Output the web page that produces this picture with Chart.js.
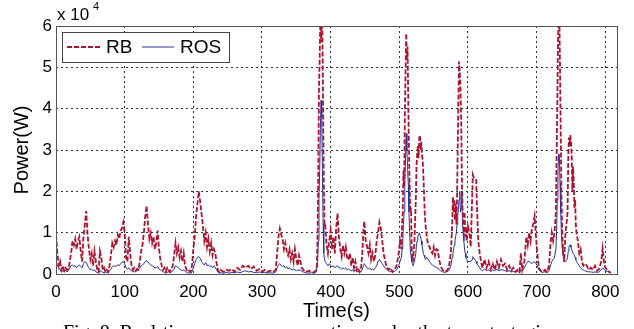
<!DOCTYPE html>
<html>
<head>
<meta charset="utf-8">
<script src="https://cdn.jsdelivr.net/npm/chart.js@4.4.1/dist/chart.umd.min.js"></script>
<style>
    html, body { margin: 0; padding: 0; background: #fff; }
    #powerChart { display: block; }
</style>
</head>
<body>
<canvas id="powerChart" width="634" height="329"></canvas>
<script>
// time in s, power in units of 10^4 W
// each line of the three arrays covers the same samples
const timeSec = [
    0, 2, 4, 6, 8, 10, 12, 14, 16, 18, 20, 22, 24, 26, 28, 30, 32, 34, 36, 38,
    40, 42, 44, 46, 48, 50, 52, 54, 56, 58, 60, 62, 64, 66, 68, 70, 72, 74, 76, 78,
    80, 82, 84, 86, 88, 90, 92, 94, 96, 98, 100, 102, 104, 106, 108, 110, 112, 114, 116, 118,
    120, 122, 124, 126, 128, 130, 132, 134, 136, 138, 140, 142, 144, 146, 148, 150, 152, 154, 156, 158,
    160, 162, 164, 166, 168, 170, 172, 174, 176, 178, 180, 182, 184, 186, 188, 190, 192, 194, 196, 198,
    200, 202, 204, 206, 208, 210, 212, 214, 216, 218, 220, 222, 224, 226, 228, 230, 232, 234, 236, 238,
    240, 244, 248, 252, 256, 260, 264, 268, 272, 276, 280, 284, 288, 292, 296, 300, 304, 308, 312, 316,
    320, 322, 324, 326, 328, 330, 332, 334, 336, 338, 340, 342, 344, 346, 348, 350, 352, 354, 356, 358,
    360, 364, 368, 372, 376, 379, 380, 381, 382, 383, 384, 385, 386, 387, 388, 389, 390, 391, 392, 394, 396, 398, 400,
    402, 404, 406, 408, 410, 412, 414, 416, 418, 420, 422, 424, 426, 428, 430, 432, 434, 436, 438, 440,
    442, 444, 446, 448, 449, 451, 453, 455, 457, 459, 461, 463, 465, 467, 469, 471, 473, 475, 477, 479,
    481, 484, 487, 490, 493,
    496, 499, 501, 503, 504, 505, 506, 507, 508, 509, 510, 511, 512, 513, 514, 515, 516, 517, 518, 520,
    522, 524, 525, 526, 527, 528, 529, 530, 531, 532, 533, 534, 535, 536, 537, 538, 540,
    542, 544, 546, 548, 550, 552, 554, 556, 558,
    560, 563, 566, 569, 572, 575, 577, 578, 579, 580, 581, 582, 583, 584, 585, 586, 587, 588, 589, 590,
    591, 592, 593, 594, 595, 596, 597, 598, 600, 602, 604, 606, 607, 608, 610, 612, 613, 615, 617, 619, 621,
    624, 627, 630, 633, 636, 639, 642, 645, 648, 651, 654, 657, 660, 663, 666, 669, 672, 675,
    677, 679, 682, 685, 687, 689, 691, 693, 695, 697, 699, 701, 703, 706, 709, 712, 715, 718, 720, 722, 724, 726,
    728, 729, 730, 731, 732, 733, 734, 735, 736, 737, 738, 740, 742, 744,
    745, 746, 747, 748, 749, 750, 751, 752, 753, 754, 755, 756, 757, 758, 760, 762, 764, 766,
    768, 770, 773, 776, 779, 782, 785, 788, 791, 794, 796, 798, 800, 803, 806, 808
];

const rbPower = [
    0.95, 0.5, 0.2, 0.3, 0.1, 0.2, 0.08, 0.15, 0.1, 0.12, 0.3, 0.5, 0.8, 0.7, 0.85, 0.6, 0.8, 0.9, 0.55, 0.3,
    0.9, 1.2, 1.52, 0.95, 0.6, 0.35, 0.5, 0.2, 0.55, 0.3, 0.1, 0.05, 0.55, 0.4, 0.1, 0.15, 0.05, 0.1, 0.05, 0.2,
    0.45, 0.75, 0.65, 0.8, 0.7, 0.95, 0.85, 1.05, 1.1, 1.25, 1.0, 0.4, 0.3, 0.9, 0.5, 0.2, 0.1, 0.15, 0.08, 0.12,
    0.1, 0.3, 0.55, 0.7, 1.0, 1.4, 1.65, 1.2, 0.85, 1.0, 0.75, 0.9, 0.6, 0.75, 1.05, 0.6, 0.35, 0.2, 0.1, 0.15,
    0.05, 0.15, 0.1, 0.05, 0.12, 0.2, 0.45, 0.75, 0.5, 0.65, 0.4, 0.55, 0.3, 0.5, 0.2, 0.1, 0.05, 0.08, 0.05, 0.2,
    0.6, 0.9, 1.4, 1.7, 2.0, 1.75, 1.45, 1.15, 0.8, 1.0, 0.65, 0.85, 0.55, 0.75, 0.45, 0.6, 0.5, 0.25, 0.08, 0.05,
    0.1, 0.05, 0.1, 0.08, 0.12, 0.05, 0.15, 0.1, 0.2, 0.15, 0.2, 0.12, 0.18, 0.08, 0.12, 0.06, 0.1, 0.05, 0.08, 0.05,
    0.1, 0.5, 0.9, 1.1, 0.95, 0.85, 0.6, 0.75, 0.55, 0.45, 0.6, 0.35, 0.5, 0.3, 0.6, 0.35, 0.2, 0.45, 0.3, 0.15,
    0.1, 0.05, 0.08, 0.05, 0.04, 0.1, 0.2, 1.0, 2.5, 4.5, 5.2, 6.3, 5.6, 6.3, 5.8, 4.0, 2.2, 1.2, 1.22, 0.7, 0.5, 0.8, 1.05,
    0.6, 0.9, 0.5, 1.1, 1.47, 0.9, 0.6, 0.42, 0.7, 0.5, 0.66, 0.4, 0.34, 0.5, 0.2, 0.4, 0.15, 0.3, 0.1, 0.15,
    0.05, 0.1, 0.5, 1.1, 1.27, 0.8, 0.66, 0.5, 0.7, 0.35, 0.5, 0.3, 0.45, 0.8, 1.0, 1.25, 1.1, 0.82, 0.5, 0.35,
    0.2, 0.1, 0.15, 0.05, 0.1,
    0.2, 0.5, 0.8, 0.6, 1.2, 1.5, 2.5, 2.1, 3.8, 4.8, 5.82, 5.2, 5.5, 4.2, 3.0, 2.2, 1.5, 1.6, 0.6, 0.3,
    0.8, 1.8, 2.6, 2.9, 3.1, 2.8, 3.3, 3.36, 3.0, 3.2, 2.9, 2.75, 2.4, 1.95, 1.5, 1.2, 0.9,
    0.7, 0.66, 0.55, 0.5, 0.65, 0.45, 0.6, 0.58, 0.35,
    0.2, 0.1, 0.05, 0.08, 0.15, 0.5, 1.2, 1.87, 1.5, 1.8, 1.3, 1.7, 1.2, 1.8, 3.0, 4.2, 5.14, 4.9, 4.5, 3.8,
    2.5, 1.6, 1.4, 1.0, 1.5, 0.9, 1.15, 0.8, 1.15, 1.0, 0.66, 1.8, 2.4, 2.35, 2.3, 2.27, 1.63, 0.8, 0.5, 0.3, 0.15,
    0.35, 0.15, 0.3, 0.12, 0.25, 0.1, 0.3, 0.15, 0.35, 0.2, 0.25, 0.1, 0.2, 0.08, 0.15, 0.05, 0.1, 0.05,
    0.5, 0.1, 0.3, 0.9, 0.7, 1.0, 0.8, 1.1, 1.2, 1.4, 0.9, 0.5, 0.15, 0.08, 0.05, 0.1, 0.05, 0.2, 0.7, 1.0, 0.8, 1.0,
    1.5, 2.8, 4.0, 5.5, 6.3, 6.3, 5.0, 3.5, 2.0, 1.2, 0.6, 0.3, 1.0, 1.3,
    1.5, 2.8, 3.3, 3.1, 3.36, 3.2, 2.9, 2.0, 2.6, 2.2, 1.6, 1.8, 1.2, 1.0, 0.8, 0.5, 0.6, 0.3,
    0.2, 0.25, 0.2, 0.1, 0.15, 0.1, 0.2, 0.08, 0.12, 0.3, 0.62, 0.3, 0.15, 0.1, 0.05, 0.03
];

const rosPower = [
    0.2, 0.22, 0.15, 0.1, 0.05, 0.08, 0.05, 0.1, 0.05, 0.08, 0.15, 0.2, 0.22, 0.18, 0.2, 0.15, 0.2, 0.22, 0.18, 0.15,
    0.25, 0.3, 0.28, 0.2, 0.15, 0.1, 0.12, 0.08, 0.1, 0.05, 0.04, 0.03, 0.08, 0.06, 0.04, 0.03, 0.03, 0.04, 0.05, 0.08,
    0.12, 0.18, 0.2, 0.18, 0.2, 0.22, 0.2, 0.25, 0.28, 0.3, 0.25, 0.15, 0.12, 0.15, 0.1, 0.08, 0.06, 0.05, 0.06, 0.08,
    0.1, 0.15, 0.2, 0.22, 0.25, 0.3, 0.32, 0.28, 0.25, 0.22, 0.2, 0.18, 0.15, 0.15, 0.18, 0.12, 0.1, 0.08, 0.05, 0.04,
    0.05, 0.04, 0.05, 0.03, 0.05, 0.08, 0.12, 0.2, 0.18, 0.15, 0.12, 0.1, 0.08, 0.1, 0.06, 0.04, 0.02, 0.03, 0.02, 0.05,
    0.15, 0.25, 0.35, 0.4, 0.42, 0.38, 0.3, 0.25, 0.22, 0.28, 0.2, 0.22, 0.18, 0.2, 0.15, 0.2, 0.15, 0.1, 0.04, 0.02,
    0.03, 0.02, 0.04, 0.02, 0.04, 0.03, 0.05, 0.03, 0.06, 0.08, 0.05, 0.06, 0.04, 0.03, 0.05, 0.03, 0.04, 0.02, 0.03, 0.02,
    0.05, 0.15, 0.22, 0.25, 0.2, 0.18, 0.2, 0.15, 0.18, 0.12, 0.15, 0.12, 0.1, 0.12, 0.1, 0.08, 0.1, 0.08, 0.1, 0.06,
    0.05, 0.03, 0.02, 0.03, 0.02, 0.05, 0.05, 0.3, 0.8, 1.8, 2.5, 3.5, 4.2, 3.8, 2.5, 1.2, 0.5, 0.35, 0.3, 0.25, 0.2, 0.25, 0.2,
    0.18, 0.2, 0.15, 0.18, 0.2, 0.15, 0.15, 0.12, 0.15, 0.12, 0.15, 0.1, 0.12, 0.1, 0.08, 0.1, 0.06, 0.1, 0.05, 0.06,
    0.04, 0.05, 0.12, 0.2, 0.25, 0.2, 0.15, 0.12, 0.15, 0.1, 0.12, 0.1, 0.15, 0.2, 0.3, 0.35, 0.3, 0.25, 0.2, 0.15,
    0.12, 0.08, 0.06, 0.05, 0.06,
    0.1, 0.2, 0.3, 0.4, 0.6, 0.8, 1.2, 1.5, 2.2, 2.8, 3.4, 3.0, 2.6, 2.2, 1.5, 1.0, 0.6, 0.45, 0.3, 0.2,
    0.3, 0.5, 0.7, 0.8, 0.9, 0.95, 1.0, 1.0, 0.9, 0.8, 0.7, 0.6, 0.5, 0.45, 0.4, 0.35, 0.4,
    0.35, 0.3, 0.25, 0.22, 0.2, 0.18, 0.15, 0.15, 0.1,
    0.08, 0.05, 0.04, 0.05, 0.08, 0.2, 0.4, 0.5, 0.6, 0.7, 0.8, 0.9, 1.0, 1.2, 1.4, 1.6, 1.8, 2.0, 1.5, 1.6,
    2.0, 1.2, 1.0, 0.8, 0.6, 0.5, 0.4, 0.35, 0.3, 0.3, 0.3, 0.35, 0.42, 0.4, 0.35, 0.3, 0.25, 0.2, 0.15, 0.1, 0.08,
    0.12, 0.08, 0.1, 0.06, 0.1, 0.08, 0.12, 0.08, 0.1, 0.1, 0.08, 0.06, 0.08, 0.05, 0.06, 0.05, 0.06, 0.04,
    0.1, 0.08, 0.15, 0.25, 0.3, 0.3, 0.28, 0.25, 0.28, 0.3, 0.25, 0.2, 0.1, 0.05, 0.04, 0.05, 0.04, 0.08, 0.2, 0.3, 0.35, 0.4,
    0.6, 1.0, 1.8, 2.5, 2.9, 2.9, 2.2, 1.5, 1.0, 0.7, 0.5, 0.3, 0.3, 0.35,
    0.4, 0.55, 0.65, 0.7, 0.7, 0.65, 0.6, 0.55, 0.5, 0.5, 0.45, 0.4, 0.35, 0.3, 0.25, 0.2, 0.15, 0.12,
    0.1, 0.08, 0.06, 0.05, 0.05, 0.04, 0.05, 0.04, 0.05, 0.1, 0.15, 0.12, 0.08, 0.06, 0.04, 0.02
];

const xTicks = [0, 100, 200, 300, 400, 500, 600, 700, 800];
const yTicks = [0, 1, 2, 3, 4, 5, 6];
const seriesNames = ['RB', 'ROS'];

const rbColor = '#B0122E';
const rosColor = '#2233A0';
const gridColor = '#333';
const fontFamily = "'Liberation Sans', Arial, Helvetica, sans-serif";

// box round the plot, legend, exponent and caption
const framePlugin = {
    id: 'frame',
    afterDraw(chart) {
        const { ctx, chartArea: a } = chart;
        ctx.save();
        ctx.strokeStyle = '#555';
        ctx.lineWidth = 1;
        ctx.strokeRect(Math.round(a.left) + 0.5, Math.round(a.top) + 0.5,
            Math.round(a.right - a.left), Math.round(a.bottom - a.top));

        // exponent label
        ctx.fillStyle = '#000';
        ctx.textBaseline = 'alphabetic';
        ctx.textAlign = 'left';
        ctx.font = '17px ' + fontFamily;
        ctx.fillText('x 10', a.left + 1, 20);
        ctx.font = '11px ' + fontFamily;
        ctx.fillText('4', a.left + 37, 10);

        // legend
        const lx = a.left + 6, ly = a.top + 6, lw = 167, lh = 30;
        ctx.fillStyle = '#fff';
        ctx.fillRect(lx, ly, lw, lh);
        ctx.strokeStyle = '#444';
        ctx.strokeRect(lx + 0.5, ly + 0.5, lw, lh);
        const my = ly + 15;
        ctx.lineWidth = 1.8;
        ctx.strokeStyle = rbColor;
        ctx.setLineDash([5, 2]);
        ctx.beginPath();
        ctx.moveTo(lx + 5, my);
        ctx.lineTo(lx + 38, my);
        ctx.stroke();
        ctx.setLineDash([]);
        ctx.lineWidth = 1;
        ctx.strokeStyle = rosColor;
        ctx.beginPath();
        ctx.moveTo(lx + 80, my);
        ctx.lineTo(lx + 112, my);
        ctx.stroke();
        ctx.fillStyle = '#000';
        ctx.font = '19px ' + fontFamily;
        ctx.textBaseline = 'middle';
        ctx.fillText(seriesNames[0], lx + 44, my + 1);
        ctx.fillText(seriesNames[1], lx + 118, my + 1);

        // figure caption, cut off by the bottom edge
        ctx.font = '20px "Liberation Serif", "Times New Roman", serif';
        ctx.textBaseline = 'alphabetic';
        ctx.fillText('Fig. 8. Real-time power consumption under the two strategies', 63, 339);
        ctx.restore();
    }
};

const powerCtx = document.getElementById('powerChart').getContext('2d');
new Chart(powerCtx, {
    type: 'line',
    data: {
        datasets: [{
            label: seriesNames[0],
            data: timeSec.map((t, i) => ({ x: t, y: rbPower[i] })),
            borderColor: rbColor,
            borderWidth: 1.8,
            borderDash: [5, 2],
            pointRadius: 0,
            tension: 0,
            fill: false
        }, {
            label: seriesNames[1],
            data: timeSec.map((t, i) => ({ x: t, y: rosPower[i] })),
            borderColor: rosColor,
            borderWidth: 1,
            pointRadius: 0,
            tension: 0,
            fill: false
        }]
    },
    options: {
        responsive: false,
        animation: false,
        devicePixelRatio: 1,
        layout: {
            padding: { top: 26, right: 17, left: 0, bottom: 0 }
        },
        plugins: {
            legend: { display: false },
            tooltip: { enabled: false }
        },
        scales: {
            x: {
                type: 'linear',
                min: 0,
                max: 817,
                afterFit: (scale) => { scale.height = 55; },
                afterBuildTicks: (scale) => {
                    scale.ticks = xTicks.map(v => ({ value: v }));
                },
                grid: {
                    color: gridColor,
                    lineWidth: 1,
                    drawTicks: false
                },
                border: { display: false, dash: [2, 3] },
                ticks: {
                    color: '#000',
                    padding: 8,
                    maxRotation: 0,
                    font: { family: fontFamily, size: 17 }
                },
                title: {
                    display: true,
                    text: 'Time(s)',
                    color: '#000',
                    padding: { top: 0, bottom: 6 },
                    font: { family: fontFamily, size: 20 }
                }
            },
            y: {
                min: 0,
                max: 6,
                afterFit: (scale) => { scale.width = 56; },
                afterBuildTicks: (scale) => {
                    scale.ticks = yTicks.map(v => ({ value: v }));
                },
                grid: {
                    color: gridColor,
                    lineWidth: 1,
                    drawTicks: false
                },
                border: { display: false, dash: [2, 3] },
                ticks: {
                    color: '#000',
                    padding: 4,
                    font: { family: fontFamily, size: 17 }
                },
                title: {
                    display: true,
                    text: 'Power(W)',
                    color: '#000',
                    padding: { top: 10, bottom: 0 },
                    font: { family: fontFamily, size: 20 }
                }
            }
        }
    },
    plugins: [framePlugin]
});
</script>
</body>
</html>
